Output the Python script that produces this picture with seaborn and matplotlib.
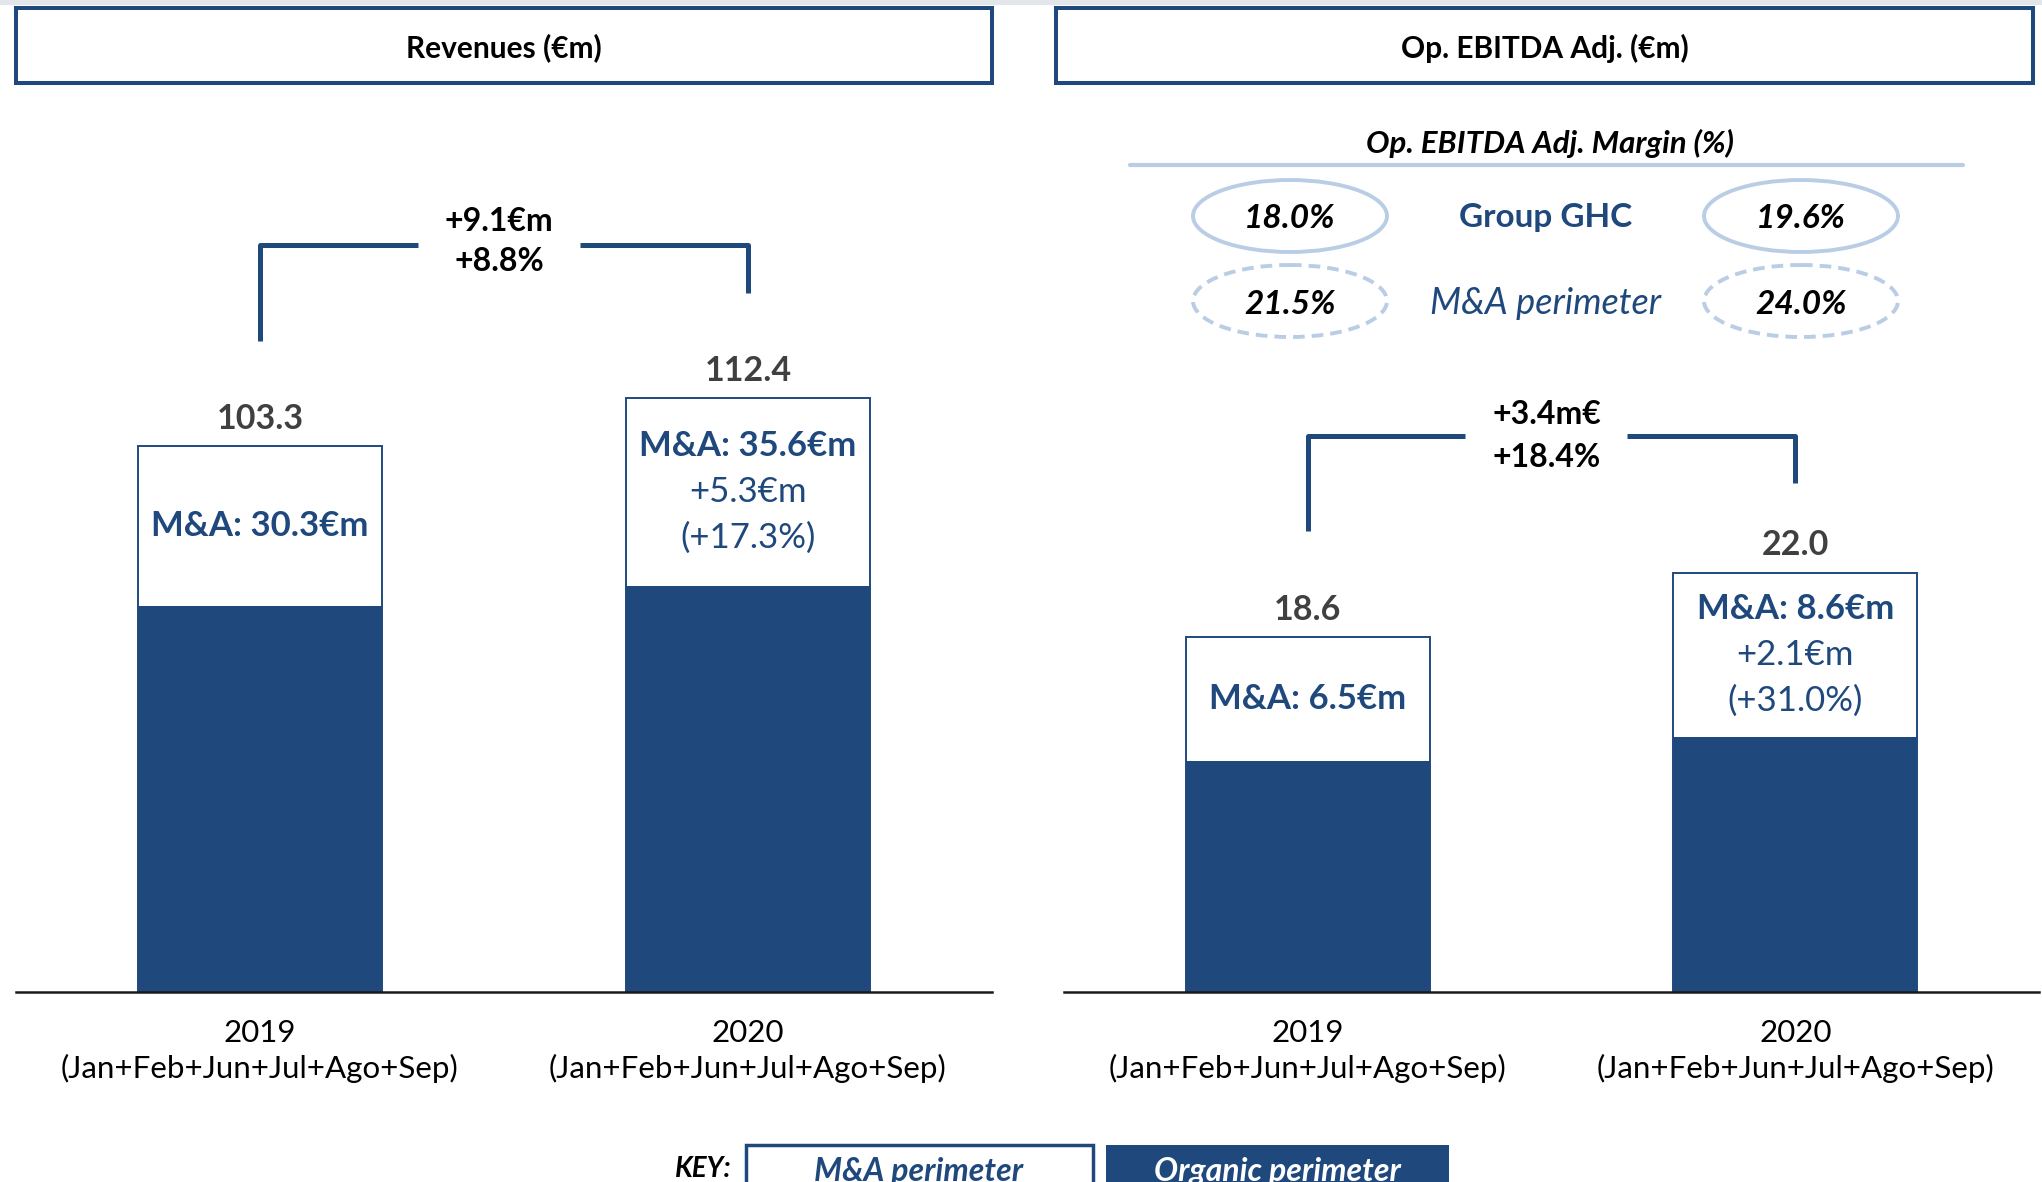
import matplotlib
matplotlib.use("Agg")
import matplotlib.pyplot as plt
from matplotlib.patches import Rectangle, Ellipse
import seaborn as sns
import pandas as pd

# ---- data -------------------------------------------------------------
years = ["2019", "2020"]
period = "(Jan+Feb+Jun+Jul+Ago+Sep)"

revenue_total = [103.3, 112.4]
revenue_ma = [30.3, 35.6]
revenue_ma_growth = ["+5.3€m", "(+17.3%)"]
revenue_delta = ["+9.1€m", "+8.8%"]

ebitda_total = [18.6, 22.0]
ebitda_ma = [6.5, 8.6]
ebitda_ma_growth = ["+2.1€m", "(+31.0%)"]
ebitda_delta = ["+3.4m€", "+18.4%"]

margin_group = ["18.0%", "19.6%"]
margin_ma = ["21.5%", "24.0%"]

# ---- style ------------------------------------------------------------
sns.set_style("white")
plt.rcParams["font.family"] = ["Lato", "DejaVu Sans"]

BLUE = "#1F497D"
LIGHT = "#B9CDE5"
GREY = "#404040"

W, H = 2042, 1182
fig = plt.figure(figsize=(W / 100, H / 100), dpi=100)

BASE = 992.4  # pixel row of the bar baseline


def panel(left_px, right_px):
    ax = fig.add_axes([left_px / W, (H - BASE) / H, (right_px - left_px) / W, BASE / H])
    ax.set_facecolor("none")
    return ax


def draw_bars(ax, total, ma, ymax, growth):
    organic = [t - m for t, m in zip(total, ma)]
    df_total = pd.DataFrame({"year": years, "value": total})
    df_org = pd.DataFrame({"year": years, "value": organic})
    sns.barplot(data=df_total, x="year", y="value", ax=ax, color="white",
                saturation=1, width=0.5, edgecolor=BLUE, linewidth=1.4)
    sns.barplot(data=df_org, x="year", y="value", ax=ax, color=BLUE,
                saturation=1, width=0.5, linewidth=0)
    ax.set_xlim(-0.5, 1.5)
    ax.set_ylim(0, ymax)
    ax.set_xlabel("")
    ax.set_ylabel("")
    ax.set_yticks([])
    ax.set_xticks([0, 1])
    ax.set_xticklabels([f"{y}\n{period}" for y in years], fontsize=22.5,
                       color="black", linespacing=1.3)
    ax.tick_params(axis="x", length=0, pad=19)
    for s in ["top", "left", "right"]:
        ax.spines[s].set_visible(False)
    ax.spines["bottom"].set_color("#1a1a1a")
    ax.spines["bottom"].set_linewidth(1.8)
    ax.spines["bottom"].set_zorder(5)

    for i, (t, m, o) in enumerate(zip(total, ma, organic)):
        ax.annotate(f"{t:.1f}", (i, t), xytext=(0, 19.5), textcoords="offset points",
                    ha="center", va="center", fontsize=24.5, fontweight="bold", color=GREY)
        mid = (o + t) / 2
        if i == 0:
            ax.annotate(f"M&A: {m:.1f}€m", (i, mid), ha="center", va="center",
                        fontsize=25, fontweight="bold", color=BLUE)
        else:
            ax.annotate(f"M&A: {m:.1f}€m", (i, mid), xytext=(0, 33), textcoords="offset points",
                        ha="center", va="center", fontsize=25, fontweight="bold", color=BLUE)
            ax.annotate(growth[0], (i, mid), ha="center", va="center",
                        fontsize=25, color=BLUE)
            ax.annotate(growth[1], (i, mid), xytext=(0, -33), textcoords="offset points",
                        ha="center", va="center", fontsize=25, color=BLUE)


def bracket(ax, y_left, y_right, y_top, y_text, labels):
    kw = dict(color=BLUE, lw=3.6, solid_capstyle="butt", zorder=3)
    ax.plot([0, 0, 0.323], [y_left, y_top, y_top], **kw)
    ax.plot([0.655, 1, 1], [y_top, y_top, y_right], **kw)
    for yt, lab in zip(y_text, labels):
        ax.text(0.49, yt, lab, ha="center", va="center",
                fontsize=23, fontweight="bold", color="black")


# ---- revenues ---------------------------------------------------------
ax1 = panel(16, 992)
draw_bars(ax1, revenue_total, revenue_ma, 187.6, revenue_ma_growth)
bracket(ax1, 123.1, 132.2, 141.3, (145.8, 138.1), revenue_delta)

# ---- op. ebitda -------------------------------------------------------
ax2 = panel(1064, 2039)
draw_bars(ax2, ebitda_total, ebitda_ma, 52.0, ebitda_ma_growth)
bracket(ax2, 24.16, 26.67, 29.13, (30.28, 28.03), ebitda_delta)

# ---- frame decorations in pixel space --------------------------------
ov = fig.add_axes([0, 0, 1, 1])
ov.set_xlim(0, W)
ov.set_ylim(H, 0)
ov.axis("off")
ov.set_facecolor("none")

ov.add_patch(Rectangle((0, 0), W, 5, facecolor="#E2E5EA", edgecolor="none"))

for x0, x1, title in [(16, 992, "Revenues (€m)"), (1056, 2033, "Op. EBITDA Adj. (€m)")]:
    ov.add_patch(Rectangle((x0, 8), x1 - x0, 75, facecolor="white", edgecolor=BLUE, lw=2.9))
    ov.text((x0 + x1) / 2, 48, title, ha="center", va="center",
            fontsize=21.5, fontweight="bold", color="black")

# margin block
ov.text(1550, 143, "Op. EBITDA Adj. Margin (%)", ha="center", va="center",
        fontsize=22.5, fontweight="bold", style="italic", color="black")
ov.plot([1130, 1963], [165, 165], color=LIGHT, lw=3)

for cx, val in zip([1290, 1801], margin_group):
    ov.add_patch(Ellipse((cx, 216), 194, 72, facecolor="none", edgecolor=LIGHT, lw=2.8))
    ov.text(cx, 218, val, ha="center", va="center", fontsize=24,
            fontweight="bold", style="italic", color="black")
for cx, val in zip([1290, 1801], margin_ma):
    ov.add_patch(Ellipse((cx, 301), 194, 72, facecolor="none", edgecolor=LIGHT, lw=2.8,
                         linestyle=(0, (3, 1.8))))
    ov.text(cx, 304, val, ha="center", va="center", fontsize=24,
            fontweight="bold", style="italic", color="black")
ov.text(1546, 218, "Group GHC", ha="center", va="center", fontsize=24,
        fontweight="bold", color=BLUE)
ov.text(1546, 303, "M&A perimeter", ha="center", va="center", fontsize=26,
        style="italic", color=BLUE)

# key
ov.text(703, 1169, "KEY:", ha="center", va="center", fontsize=20,
        fontweight="bold", style="italic", color="black")
ov.add_patch(Rectangle((746, 1145), 347, 60, facecolor="white", edgecolor=BLUE, lw=2.5))
ov.text(919, 1171, "M&A perimeter", ha="center", va="center", fontsize=23,
        fontweight="bold", style="italic", color=BLUE)
ov.add_patch(Rectangle((1106, 1145), 343, 60, facecolor=BLUE, edgecolor="none"))
ov.text(1277, 1171, "Organic perimeter", ha="center", va="center", fontsize=23,
        fontweight="bold", style="italic", color="white")

fig.savefig("out.png", dpi=100)
